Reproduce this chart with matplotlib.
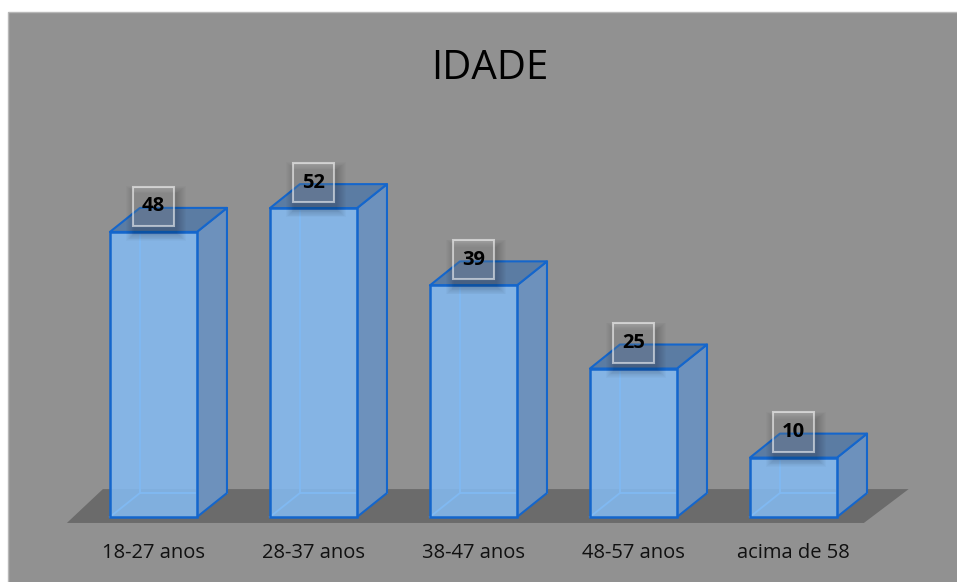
import numpy as np
import matplotlib
matplotlib.use('Agg')
import matplotlib.pyplot as plt
from matplotlib.patches import Rectangle, Polygon

# data
categories = ['18-27 anos', '28-37 anos', '38-47 anos', '48-57 anos', 'acima de 58']
values = [48, 52, 39, 25, 10]
title = 'IDADE'

# 3d look (in data units)
w = 0.544      # bar width
dx = 0.1875    # depth offset in x
dy = 4.04      # depth offset in y

face_c = '#84bbf2'
side_c = '#6d91bc'
top_c = '#5b7ca3'
edge_c = '#1466cc'
inner_c = '#6cb0f6'

fig = plt.figure(figsize=(9.57, 5.82), dpi=100)
fig.patch.set_facecolor('white')

ax = fig.add_axes([0, 0, 1, 1])
ax.set_facecolor('none')
ax.set_xlim(-0.959, 5.022)
ax.set_ylim(-10.94, 87.04)
ax.axis('off')

# gray chart area
ax.add_patch(Rectangle((8/957, -0.01), 1, 1 - 12/582 + 0.01, transform=fig.transFigure,
                       facecolor='#919191', edgecolor='#b8b8b8', lw=1, zorder=0))

# floor
floor = Polygon([(-0.541, -1.0), (4.44, -1.0), (4.72, 4.7), (-0.316, 4.7)],
                closed=True, facecolor='#6b6b6b', edgecolor='none', zorder=1)
ax.add_patch(floor)

for i, v in enumerate(values):
    x0 = i - w/2
    x1 = i + w/2
    # hidden back edges (seen through the glass)
    ax.plot([x0 + dx, x0 + dx], [dy, v + dy], color=inner_c, lw=1.3, zorder=2)
    ax.plot([x0, x0 + dx, x1 + dx], [0, dy, dy], color=inner_c, lw=1.3, zorder=2)
    # side face
    ax.add_patch(Polygon([(x1, 0), (x1 + dx, dy), (x1 + dx, v + dy), (x1, v)],
                         closed=True, facecolor=side_c, edgecolor=edge_c, lw=1.5,
                         joinstyle='round', zorder=3))
    # top face
    ax.add_patch(Polygon([(x0, v), (x1, v), (x1 + dx, v + dy), (x0 + dx, v + dy)],
                         closed=True, facecolor=top_c, edgecolor=edge_c, lw=1.5,
                         joinstyle='round', zorder=3))
    # front face (a bit see-through so the back edges show)
    ax.add_patch(Rectangle((x0, 0), w, v, facecolor=face_c, edgecolor='none',
                           alpha=0.86, zorder=4))
    ax.add_patch(Rectangle((x0, 0), w, v, facecolor='none', edgecolor=edge_c,
                           lw=1.8, zorder=5))
    # value label box with a soft shadow
    bw, bh = 0.256, 6.6
    cy = v + 4.3
    for k in range(10):
        g = 0.006 * (10 - k)
        ax.add_patch(Rectangle((i - bw/2 + 0.015 - g, cy - bh/2 - 1.2 - g*22), bw + 2*g,
                               bh + 2*g*22, facecolor='black', edgecolor='none',
                               alpha=0.018, zorder=5.5))
    ax.add_patch(Rectangle((i - bw/2, cy - bh/2), bw, bh, facecolor=(1, 1, 1, 0.15),
                           edgecolor=(1, 1, 1, 0.55), lw=1.5, zorder=6))
    ax.text(i, cy, str(v), ha='center', va='center', fontsize=14.5, fontweight='bold',
            family=['Open Sans', 'DejaVu Sans'], color='black', zorder=7)
    # category label
    ax.text(i, -6.0, categories[i], ha='center', va='center', fontsize=14.5,
            family=['Open Sans', 'DejaVu Sans'], color='#111111', zorder=7)

ax.text(2.1, 75.5, title, ha='center', va='center', fontsize=29,
        family=['Open Sans', 'DejaVu Sans'], color='black')

fig.savefig('out.png', dpi=100)
